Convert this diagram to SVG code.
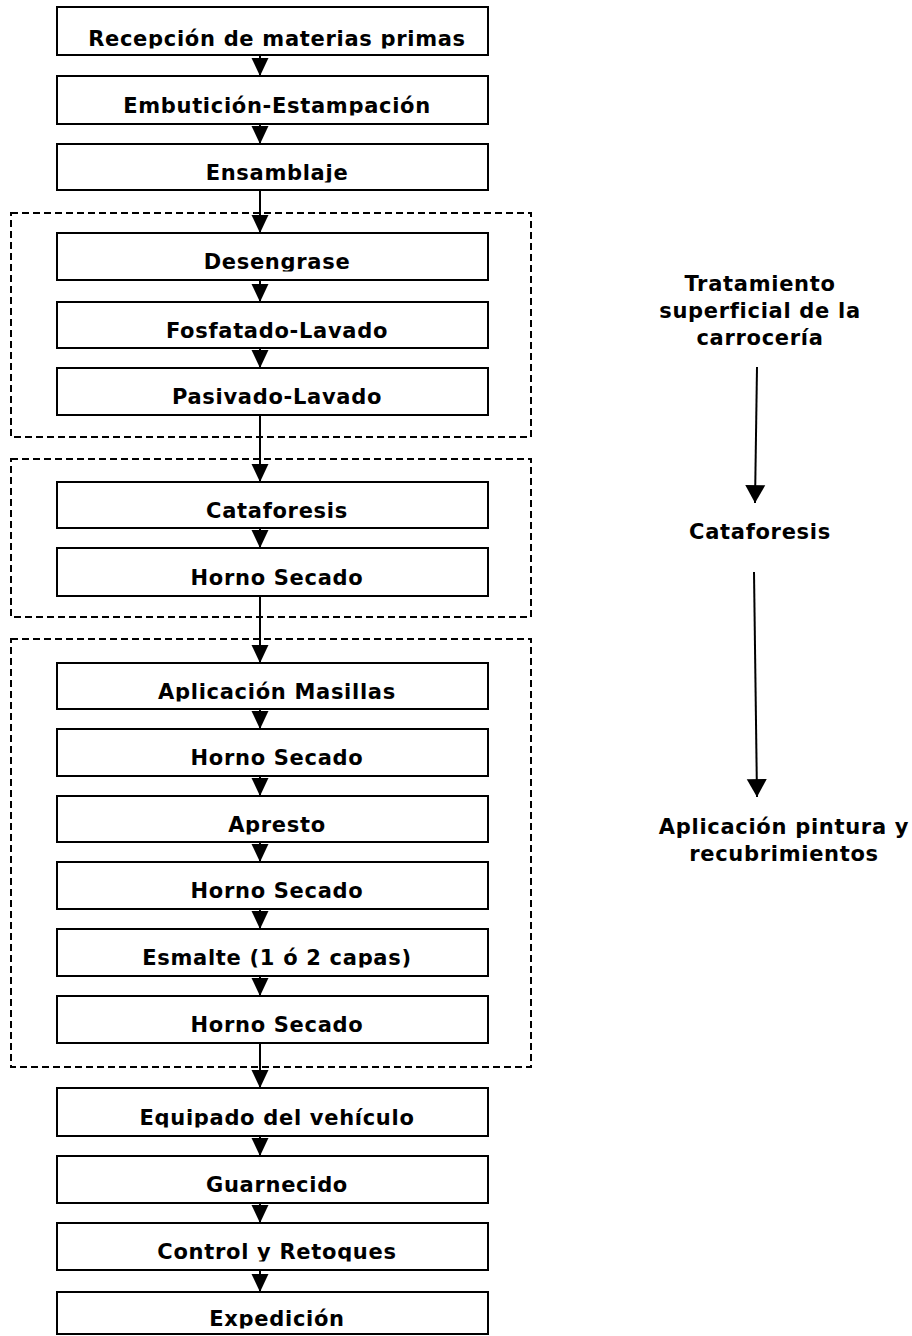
<svg xmlns="http://www.w3.org/2000/svg" width="912" height="1336" viewBox="0 0 912 1336">
<style>
.box{fill:#fff;stroke:#000;stroke-width:2}
.grp{fill:none;stroke:#000;stroke-width:2;stroke-dasharray:7 4}
.t{font-family:"DejaVu Sans",Verdana,sans-serif;font-weight:bold;font-size:21px;letter-spacing:0.7px;fill:#000;text-anchor:middle}
.bt{clip-path:url(#desc)}
.c{stroke:#000;stroke-width:2;fill:none;marker-end:url(#ah)}
.c2{stroke:#000;stroke-width:2;fill:none;marker-end:url(#ah2)}
</style>
<defs>
<marker id="ah" markerUnits="userSpaceOnUse" markerWidth="18" markerHeight="18" refX="17" refY="8" orient="auto" viewBox="0 0 17 16" overflow="visible">
<path d="M0,0 L17,8 L0,16 z" fill="#000"/>
</marker>
<marker id="ah2" markerUnits="userSpaceOnUse" markerWidth="18" markerHeight="20" refX="17" refY="9.5" orient="auto" viewBox="0 0 17 19" overflow="visible">
<path d="M0,0 L17,9.5 L0,19 z" fill="#000"/>
</marker>
<clipPath id="desc" clipPathUnits="objectBoundingBox"><rect x="-0.2" y="-0.5" width="1.4" height="1.4"/></clipPath>
</defs>
<g id="groups">
<rect class="grp" x="11" y="213" width="520" height="224"/>
<rect class="grp" x="11" y="459" width="520" height="158"/>
<rect class="grp" x="11" y="639" width="520" height="428"/>
</g>
<g id="connectors">
<line class="c" x1="260" y1="52" x2="260" y2="76"/>
<line class="c" x1="260" y1="121" x2="260" y2="144"/>
<line class="c" x1="260" y1="187" x2="260" y2="233"/>
<line class="c" x1="260" y1="277" x2="260" y2="302"/>
<line class="c" x1="260" y1="345" x2="260" y2="368"/>
<line class="c" x1="260" y1="412" x2="260" y2="482"/>
<line class="c" x1="260" y1="525" x2="260" y2="548"/>
<line class="c" x1="260" y1="593" x2="260" y2="663"/>
<line class="c" x1="260" y1="706" x2="260" y2="729"/>
<line class="c" x1="260" y1="773" x2="260" y2="796"/>
<line class="c" x1="260" y1="839" x2="260" y2="862"/>
<line class="c" x1="260" y1="906" x2="260" y2="929"/>
<line class="c" x1="260" y1="973" x2="260" y2="996"/>
<line class="c" x1="260" y1="1040" x2="260" y2="1088"/>
<line class="c" x1="260" y1="1133" x2="260" y2="1156"/>
<line class="c" x1="260" y1="1200" x2="260" y2="1223"/>
<line class="c" x1="260" y1="1267" x2="260" y2="1292"/>
<line class="c2" x1="757" y1="367" x2="755" y2="503"/>
<line class="c2" x1="754" y1="572" x2="757" y2="797"/>
</g>
<g id="n1"><rect class="box" x="57" y="7" width="431" height="48"/><text class="t bt" x="277" y="46">Recepción de materias primas</text></g>
<g id="n2"><rect class="box" x="57" y="76" width="431" height="48"/><text class="t bt" x="277" y="113">Embutición-Estampación</text></g>
<g id="n3"><rect class="box" x="57" y="144" width="431" height="46"/><text class="t bt" x="277" y="180">Ensamblaje</text></g>
<g id="n4"><rect class="box" x="57" y="233" width="431" height="47"/><text class="t bt" x="277" y="269">Desengrase</text></g>
<g id="n5"><rect class="box" x="57" y="302" width="431" height="46"/><text class="t bt" x="277" y="338">Fosfatado-Lavado</text></g>
<g id="n6"><rect class="box" x="57" y="368" width="431" height="47"/><text class="t bt" x="277" y="404">Pasivado-Lavado</text></g>
<g id="n7"><rect class="box" x="57" y="482" width="431" height="46"/><text class="t bt" x="277" y="518">Cataforesis</text></g>
<g id="n8"><rect class="box" x="57" y="548" width="431" height="48"/><text class="t bt" x="277" y="585">Horno Secado</text></g>
<g id="n9"><rect class="box" x="57" y="663" width="431" height="46"/><text class="t bt" x="277" y="699">Aplicación Masillas</text></g>
<g id="n10"><rect class="box" x="57" y="729" width="431" height="47"/><text class="t bt" x="277" y="765">Horno Secado</text></g>
<g id="n11"><rect class="box" x="57" y="796" width="431" height="46"/><text class="t bt" x="277" y="832">Apresto</text></g>
<g id="n12"><rect class="box" x="57" y="862" width="431" height="47"/><text class="t bt" x="277" y="898">Horno Secado</text></g>
<g id="n13"><rect class="box" x="57" y="929" width="431" height="47"/><text class="t bt" x="277" y="965">Esmalte (1 ó 2 capas)</text></g>
<g id="n14"><rect class="box" x="57" y="996" width="431" height="47"/><text class="t bt" x="277" y="1032">Horno Secado</text></g>
<g id="n15"><rect class="box" x="57" y="1088" width="431" height="48"/><text class="t bt" x="277" y="1125">Equipado del vehículo</text></g>
<g id="n16"><rect class="box" x="57" y="1156" width="431" height="47"/><text class="t bt" x="277" y="1192">Guarnecido</text></g>
<g id="n17"><rect class="box" x="57" y="1223" width="431" height="47"/><text class="t bt" x="277" y="1259">Control y Retoques</text></g>
<g id="n18"><rect class="box" x="57" y="1292" width="431" height="42"/><text class="t bt" x="277" y="1326">Expedición</text></g>
<g id="r1"><text class="t" x="760" y="291">Tratamiento</text><text class="t" x="760" y="318">superficial de la</text><text class="t" x="760" y="345">carrocería</text></g>
<g id="r2"><text class="t" x="760" y="539">Cataforesis</text></g>
<g id="r3"><text class="t" x="784" y="834">Aplicación pintura y</text><text class="t" x="784" y="861">recubrimientos</text></g>
</svg>
